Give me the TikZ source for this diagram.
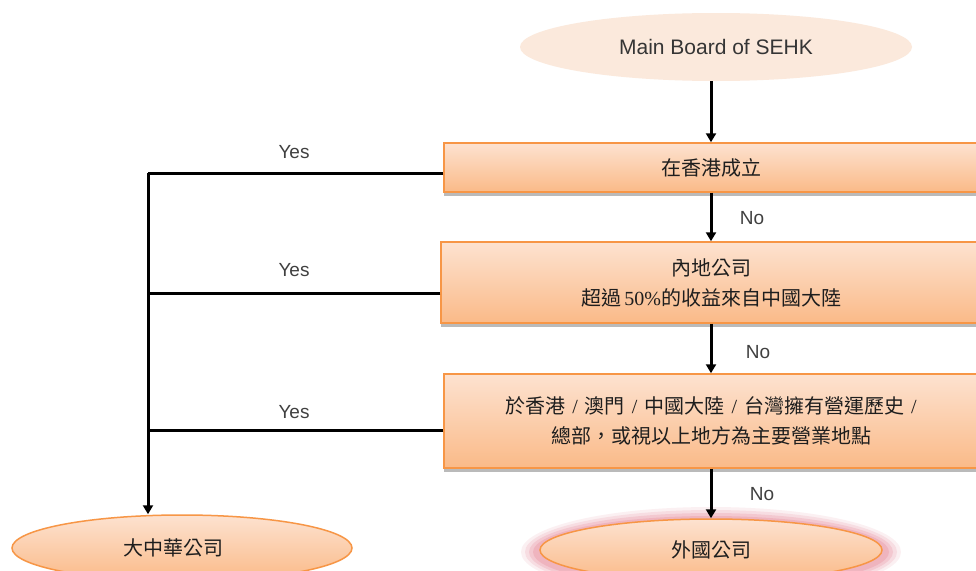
\documentclass[tikz,border=0pt]{standalone}
\usepackage{fontspec}
\setmainfont{Liberation Serif}
\newfontfamily\cjk{Noto Sans CJK TC}
\newfontfamily\lab{Liberation Sans}
\usetikzlibrary{shapes.geometric,shadows,arrows.meta}
\definecolor{obrd}{RGB}{247,150,70}
\definecolor{otop}{RGB}{253,226,208}
\definecolor{obot}{RGB}{250,186,136}
\definecolor{peach}{RGB}{251,233,220}
\definecolor{glow}{RGB}{225,110,130}
\definecolor{txt}{RGB}{30,30,30}
\newcommand{\myslash}{\hspace{7pt}/\hspace{7pt}}
\begin{document}
\begin{tikzpicture}[x=1pt,y=-1pt,
  box/.style={draw=obrd,line width=1.5pt,top color=otop,bottom color=obot,
    drop shadow={shadow xshift=0pt,shadow yshift=-4pt,fill=black!45,opacity=0.6},
    align=center,font=\fontsize{20}{30}\selectfont,text=txt,inner sep=0pt},
  oval/.style={ellipse,draw=obrd,line width=1.5pt,top color=otop,bottom color=obot,
    font=\fontsize{20}{22}\selectfont,text=txt,inner sep=0pt},
  arr/.style={line width=3pt,-{Triangle[length=9pt,width=10pt]}},
  conn/.style={line width=3pt},
  lbl/.style={font=\lab\fontsize{19}{22}\selectfont,text=txt!85}]
\useasboundingbox (0,0) rectangle (976,570);
\clip (0,0) rectangle (976,570);
\fill[white] (0,0) rectangle (976,570);

\node[ellipse,fill=peach,minimum width=392pt,minimum height=68pt,
  font=\lab\fontsize{21}{24}\selectfont,text=txt!90] (top) at (716,47) {Main Board of SEHK};

\node[box,minimum width=534pt,minimum height=49pt] (b1) at (711,167.5) {\cjk 在香港成立};
\node[box,minimum width=540pt,minimum height=81pt] (b2) at (711,282.5)
  {\cjk 內地公司\\{\cjk 超過}\,50\%{\cjk 的收益來自中國大陸}};
\node[box,minimum width=534pt,minimum height=94pt] (b3) at (711,421)
  {{\cjk 於香港}\myslash{\cjk 澳門}\myslash{\cjk 中國大陸}\myslash{\cjk 台灣擁有營運歷史}\myslash\\{\cjk 總部，或視以上地方為主要營業地點}};

% glow behind foreign-company ellipse
\foreach \w/\h/\o in {380/90/0.10,372/84/0.14,364/78/0.18,356/72/0.22}{
  \fill[glow,opacity=\o] (711,552) ellipse ({\w/2} and {\h/2});
}
\node[oval,minimum width=342pt,minimum height=62pt] (fc) at (711,550) {\cjk 外國公司};
\node[oval,minimum width=340pt,minimum height=66pt] (gc) at (182,548) {\cjk 大中華公司\hspace*{18pt}};

\draw[arr] (top.south -| b1.north) -- (b1.north);
\draw[arr] (b1.south) -- (b2.north);
\draw[arr] (b2.south) -- (b3.north);
\draw[arr] (b3.south) -- (fc.north);

\node[lbl] (n1) at (752,218) {No};
\node[lbl] (n2) at (758,352) {No};
\node[lbl] (n3) at (762,494) {No};

\coordinate (j1) at (148,173);
\coordinate (j2) at (148,293);
\coordinate (j3) at (148,430);
\draw[conn] (j1 -| b1.west) -- (j1);
\draw[conn] (j2 -| b2.west) -- (j2);
\draw[conn] (j3 -| b3.west) -- (j3);
\draw[arr] (j1) -- (j1 |- gc.north);

\node[lbl] (y1) at (294,152) {Yes};
\node[lbl] (y2) at (294,270) {Yes};
\node[lbl] (y3) at (294,412) {Yes};
\end{tikzpicture}
\end{document}
